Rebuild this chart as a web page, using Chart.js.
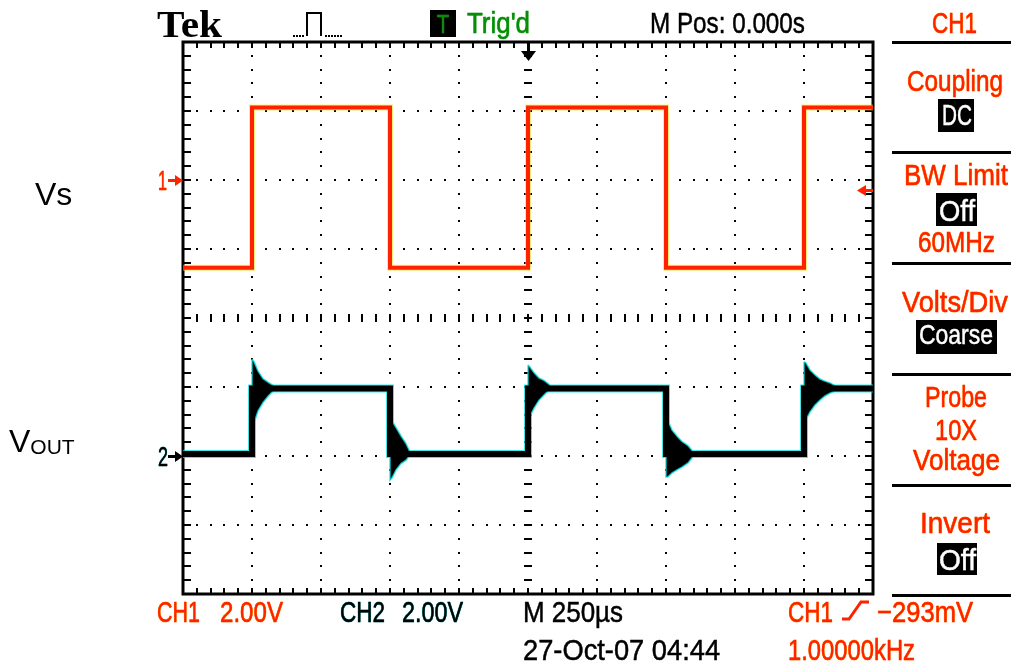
<!DOCTYPE html>
<html>
<head>
<meta charset="utf-8">
<title>Tek scope - Vs / Vout</title>
<script src="https://cdn.jsdelivr.net/npm/chart.js"></script>
<style>
  html, body { margin: 0; padding: 0; background: #fff; }
  #wrap { position: relative; width: 1011px; height: 665px; overflow: hidden; }
  #scope { position: absolute; left: 0; top: 0; }
  .lbl { position: absolute; white-space: nowrap; font-family: 'Liberation Sans', Arial, sans-serif; transform-origin: 0 0; }
  .scr { -webkit-text-stroke: 0.5px currentColor; }
  .red { color: #ff2200; text-shadow: 0 0 1px #ffd800, 0 0 1px #ffd800; }
  .cyan { color: #000; text-shadow: 0 0 1px #00e8e8, 0 0 1px #00e8e8; }
  .grn { color: #0b8a0b; text-shadow: 0 0 1px #33ff33; }
  .wht { color: #fff; }
</style>
</head>
<body>
<div id="wrap">
  <canvas id="scope" width="1011" height="665"></canvas>
  <div id="labels"></div>
</div>
<script>
// scope settings
const voltsPerDiv = 2.00;
const ch1Offset = 2;     // divisions above centre
const ch2Offset = -2;
const trigLevel = -0.293; // V on CH1

// horizontal: 250us/div, trigger at centre
const timeMin = -1250;
const timeMax = 1250;

// CH1 (Vs) square wave
const ch1Time  = [-1250, -1000, -1000, -500, -500, 0, 0, 500, 500, 1000, 1000, 1250];
const ch1Volts = [-2.54, -2.54, 2.10, 2.10, -2.54, -2.54, 2.10, 2.10, -2.54, -2.54, 2.10, 2.10];

// CH2 (Vout) settled levels
const ch2Time  = [-1250, -1000, -1000, -500, -500, 0, 0, 500, 500, 1000, 1000, 1250];
const ch2Volts = [0.06, 0.06, 1.96, 1.96, 0.06, 0.06, 1.96, 1.96, 0.06, 0.06, 1.96, 1.96];

// CH2 ringing envelope after each edge (us after edge, upper V, lower V)
const ringEdges = [-1000, -500, 0, 500, 1000];
const ringAfter = [
    [0, 7, 22, 40, 58, 76, 91],
    [0, 7, 22, 40, 58, 76],
    [0, 7, 22, 40, 58, 76, 87],
    [0, 7, 22, 40, 58, 80, 105],
    [0, 7, 22, 40, 58, 76, 94, 131]
];
const ringUpper = [
    [2.81, 2.74, 2.46, 2.24, 2.14, 2.05, 1.96],
    [1.04, 1.02, 0.82, 0.58, 0.36, 0.06],
    [2.64, 2.58, 2.41, 2.26, 2.19, 2.08, 1.96],
    [1.04, 1.02, 0.75, 0.57, 0.42, 0.30, 0.06],
    [2.73, 2.70, 2.49, 2.35, 2.23, 2.17, 2.12, 1.96]
];
const ringLower = [
    [0.90, 0.95, 1.31, 1.55, 1.73, 1.88, 1.96],
    [-0.70, -0.64, -0.40, -0.22, -0.12, 0.06],
    [1.10, 1.15, 1.39, 1.62, 1.77, 1.91, 1.96],
    [-0.61, -0.60, -0.49, -0.40, -0.32, -0.20, 0.06],
    [0.99, 1.05, 1.28, 1.48, 1.62, 1.74, 1.82, 1.96]
];

const RED = '#ff2200';

function toDiv(v, off) {
    return v / voltsPerDiv + off;
}

function trace(ts, vs, off) {
    return ts.map((t, i) => ({x: t, y: toDiv(vs[i], off)}));
}

function ringShape(k) {
    const e = ringEdges[k];
    const hi = ringAfter[k].map((d, i) => ({x: e + d, y: toDiv(ringUpper[k][i], ch2Offset)}));
    const lo = ringAfter[k].map((d, i) => ({x: e + d, y: toDiv(ringLower[k][i], ch2Offset)})).reverse();
    return hi.concat(lo, [hi[0]]);
}

// graticule: dots, centre ticks, frame
const graticule = {
    id: 'graticule',
    beforeDatasetsDraw(chart) {
        const {ctx, chartArea: a, scales: {x, y}} = chart;
        const px = v => Math.round(x.getPixelForValue(v));
        const py = v => Math.round(y.getPixelForValue(v));
        ctx.save();
        ctx.fillStyle = '#000';
        for (let i = -25; i <= 25; i++) {
            const X = px(i * 50);
            for (let k = -3; k <= 3; k++) {
                if (k !== 0) ctx.fillRect(X - 1, py(k) - 1, 2, 2);
            }
            ctx.fillRect(X - 1, py(0) - 4, 2, 8);
            ctx.fillRect(X - 1, a.top, 2, 6);
            ctx.fillRect(X - 1, a.bottom - 6, 2, 6);
        }
        for (let j = -20; j <= 20; j++) {
            const Y = py(j / 5);
            for (let m = -4; m <= 4; m++) {
                if (m !== 0) ctx.fillRect(px(m * 250) - 1, Y - 1, 2, 2);
            }
            ctx.fillRect(px(0) - 4, Y - 1, 8, 2);
            ctx.fillRect(a.left, Y - 1, 8, 2);
            ctx.fillRect(a.right - 8, Y - 1, 8, 2);
        }
        ctx.lineWidth = 3;
        ctx.strokeStyle = '#000';
        ctx.strokeRect(a.left, a.top, a.right - a.left, a.bottom - a.top);
        ctx.restore();
    },
    afterDraw(chart) {
        const {ctx, chartArea: a, scales: {x, y}} = chart;
        ctx.save();
        ctx.fillStyle = '#000';
        // side menu separators
        [42, 152, 263, 374, 485, 595].forEach(s => ctx.fillRect(892, s - 1, 119, 3));
        // black value boxes
        [[938, 99, 36, 33], [936, 193, 41, 33], [916, 320, 81, 34], [937, 543, 40, 32], [430, 10, 26, 27]]
            .forEach(b => ctx.fillRect(b[0], b[1], b[2], b[3]));
        // acquisition icon
        for (let d = 293; d <= 304; d += 3) ctx.fillRect(d, 35, 2, 2);
        for (let d = 325; d <= 342; d += 3) ctx.fillRect(d, 35, 2, 2);
        ctx.lineWidth = 2;
        ctx.strokeStyle = '#000';
        ctx.beginPath();
        ctx.moveTo(307, 36); ctx.lineTo(307, 13); ctx.lineTo(321, 13); ctx.lineTo(321, 36);
        ctx.stroke();
        // trigger position marker
        const tx = Math.round(x.getPixelForValue(0));
        ctx.fillRect(tx - 1, a.top, 3, 10);
        ctx.beginPath();
        ctx.moveTo(tx - 7, a.top + 9); ctx.lineTo(tx + 8, a.top + 9); ctx.lineTo(tx + 0.5, a.top + 19);
        ctx.closePath();
        ctx.fill();
        // channel ground markers
        const arrowRight = (yy, col) => {
            ctx.fillStyle = col;
            ctx.fillRect(168, yy - 1, 8, 3);
            ctx.beginPath();
            ctx.moveTo(175, yy - 5); ctx.lineTo(183, yy + 0.5); ctx.lineTo(175, yy + 6);
            ctx.closePath();
            ctx.fill();
        };
        arrowRight(Math.round(y.getPixelForValue(ch1Offset)), RED);
        arrowRight(Math.round(y.getPixelForValue(ch2Offset)), '#000');
        // trigger level marker
        const ly = Math.round(y.getPixelForValue(toDiv(trigLevel, ch1Offset)));
        ctx.fillStyle = RED;
        ctx.fillRect(a.right - 9, ly - 1, 9, 3);
        ctx.beginPath();
        ctx.moveTo(a.right - 7, ly - 5); ctx.lineTo(a.right - 16, ly + 0.5); ctx.lineTo(a.right - 7, ly + 6);
        ctx.closePath();
        ctx.fill();
        // rising slope glyph
        ctx.strokeStyle = RED;
        ctx.lineWidth = 3;
        ctx.beginPath();
        ctx.moveTo(842, 619); ctx.lineTo(849, 619); ctx.lineTo(861, 602); ctx.lineTo(869, 602);
        ctx.stroke();
        ctx.restore();
    }
};

const datasets = [
    {data: trace(ch2Time, ch2Volts, ch2Offset), borderColor: 'rgba(0,225,225,0.75)', borderWidth: 8, order: 9}
];
ringEdges.forEach((e, k) => {
    datasets.push({data: ringShape(k), borderColor: 'rgba(0,225,225,0.8)', borderWidth: 1.5,
        backgroundColor: '#000', fill: 'shape', order: 8});
});
datasets.push({data: trace(ch2Time, ch2Volts, ch2Offset), borderColor: '#000', borderWidth: 6, order: 7});
datasets.push({data: trace(ch1Time, ch1Volts, ch1Offset), borderColor: 'rgba(255,215,0,0.5)', borderWidth: 6, order: 6});
datasets.push({data: trace(ch1Time, ch1Volts, ch1Offset), borderColor: RED, borderWidth: 4, order: 5});

new Chart(document.getElementById('scope'), {
    type: 'line',
    data: {datasets: datasets},
    options: {
        responsive: false,
        devicePixelRatio: 1,
        animation: false,
        elements: {
            point: {radius: 0},
            line: {tension: 0, borderJoinStyle: 'miter', borderCapStyle: 'butt'}
        },
        layout: {padding: {left: 183, top: 42, right: 138, bottom: 71}},
        plugins: {
            legend: {display: false},
            tooltip: {enabled: false}
        },
        scales: {
            x: {type: 'linear', min: timeMin, max: timeMax, display: false},
            y: {type: 'linear', min: -4, max: 4, display: false}
        }
    },
    plugins: [graticule]
});

// screen text
const holder = document.getElementById('labels');
function label(text, x0, x1, base, size, cls, serif) {
    const el = document.createElement('div');
    el.className = 'lbl ' + (cls || '');
    el.textContent = text;
    el.style.fontSize = size + 'px';
    el.style.lineHeight = size + 'px';
    if (serif) {
        el.style.fontFamily = "'Liberation Serif', 'Times New Roman', serif";
        el.style.fontWeight = 'bold';
    }
    el.style.left = x0 + 'px';
    el.style.top = (base - (serif ? 0.8375 : 0.8465) * size) + 'px';
    holder.appendChild(el);
    if (x1) {
        const w = el.getBoundingClientRect().width;
        el.style.transform = 'scaleX(' + ((x1 - x0) / w).toFixed(3) + ')';
    }
    return el;
}

label('Tek', 157, 222, 37, 38, '', true);
label('T', 437, 449, 33, 26, 'grn scr');
label("Trig'd", 467, 530, 33, 30, 'grn scr');
label('M Pos: 0.000s', 650, 805, 33, 30, 'scr');
label('CH1', 932, 977, 33, 30, 'red scr');

label('Coupling', 907, 1003, 91, 30, 'red scr');
label('DC', 942, 972, 125, 30, 'wht scr');
label('BW Limit', 904, 1008, 185, 30, 'red scr');
label('Off', 939, 975, 221, 30, 'wht scr');
label('60MHz', 918, 995, 252, 30, 'red scr');
label('Volts/Div', 902, 1008, 312, 30, 'red scr');
label('Coarse', 919, 993, 345, 28, 'wht scr');
label('Probe', 925, 987, 407, 30, 'red scr');
label('10X', 935, 977, 440, 30, 'red scr');
label('Voltage', 913, 1000, 470, 30, 'red scr');
label('Invert', 920, 990, 533, 30, 'red scr');
label('Off', 939, 976, 570, 30, 'wht scr');

label('CH1', 157, 200, 622, 30, 'red scr');
label('2.00V', 220, 283, 622, 30, 'red scr');
label('CH2', 340, 385, 622, 30, 'cyan scr');
label('2.00V', 402, 463, 622, 30, 'cyan scr');
label('M 250\u00b5s', 523, 623, 622, 30, 'scr');
label('27-Oct-07 04:44', 523, 720, 660, 30, 'scr');
label('CH1', 788, 833, 622, 30, 'red scr');
label('\u2212293mV', 877, 973, 622, 30, 'red scr');
label('1.00000kHz', 788, 915, 660, 30, 'red scr');

label('1', 158, 167, 191, 28, 'red scr');
label('2', 158, 168, 467, 28, 'cyan scr');

// annotations left of the screen
label('Vs', 35, null, 205, 32, '');
const vout = label('V', 9, null, 452, 32, '');
const sub = document.createElement('span');
sub.textContent = 'OUT';
sub.style.fontSize = '21px';
sub.style.position = 'relative';
sub.style.top = '2px';
vout.appendChild(sub);
</script>
</body>
</html>
